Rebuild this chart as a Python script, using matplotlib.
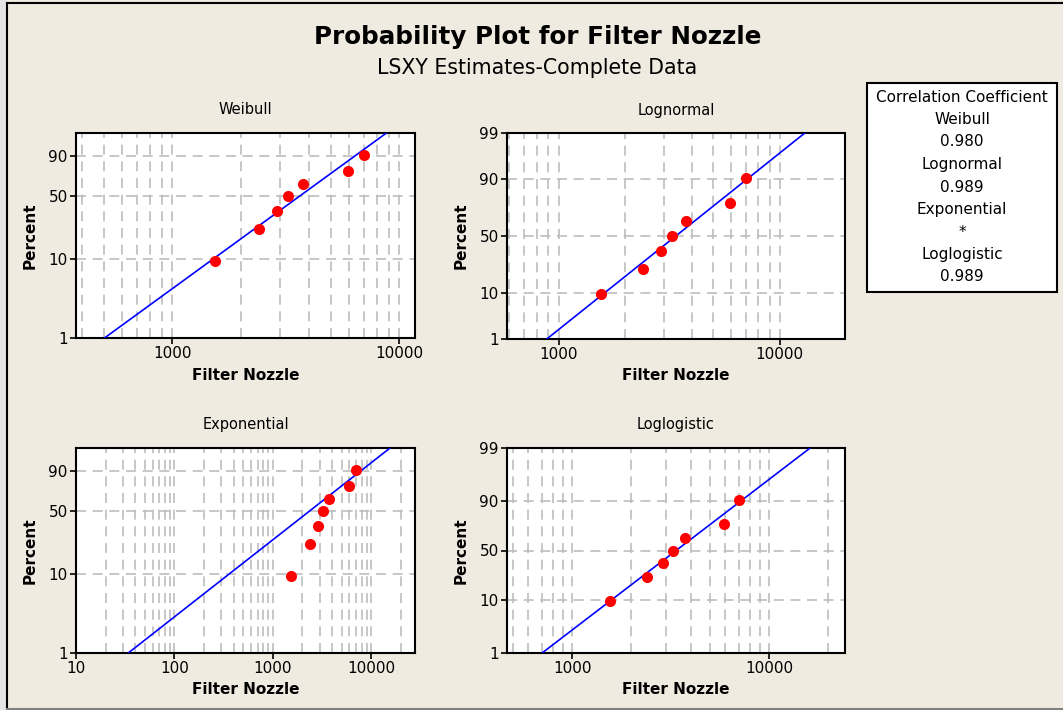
import math
import numpy as np
import matplotlib
matplotlib.use("Agg")
import matplotlib.pyplot as plt
from matplotlib.patches import Rectangle
from matplotlib.ticker import FixedLocator, NullLocator, LogLocator, FuncFormatter

# dados
filter_nozzle = [1550, 2400, 2900, 3250, 3760, 5930, 7000]
percent = [9.46, 22.97, 36.49, 50.0, 63.51, 77.03, 90.54]

# extremos das retas ajustadas (x em 1% e em 99%)
fit_percent = [1, 99]
weibull_fit = [502, 8800]
lognormal_fit = [885, 12970]
exponential_fit = [34, 15550]
loglogistic_fit = [704, 16160]

coef_names = ["Weibull", "Lognormal", "Exponential", "Loglogistic"]
coef_values = ["0.980", "0.989", "*", "0.989"]

W, H = 1063, 710
BG = "#EFEBE1"

# escalas de probabilidade
def weib_f(p):
    p = np.clip(np.asarray(p, dtype=float), 1e-6, 100 - 1e-6) / 100
    return np.log(-np.log(1 - p))

def weib_i(y):
    return 100 * (1 - np.exp(-np.exp(np.asarray(y, dtype=float))))

_z = np.linspace(-7, 7, 4001)
_P = np.array([50 * (1 + math.erf(v / math.sqrt(2))) for v in _z])

def norm_f(p):
    return np.interp(np.asarray(p, dtype=float), _P, _z)

def norm_i(y):
    return np.interp(np.asarray(y, dtype=float), _z, _P)

def logit_f(p):
    p = np.clip(np.asarray(p, dtype=float), 1e-6, 100 - 1e-6) / 100
    return np.log(p / (1 - p))

def logit_i(y):
    return 100 / (1 + np.exp(-np.asarray(y, dtype=float)))

fig = plt.figure(figsize=(W / 100, H / 100), dpi=100, facecolor=BG)
plt.rcParams["font.family"] = "DejaVu Sans"

# faixa clara a esquerda e borda
fig.patches.append(Rectangle((0, 0), 7 / W, 1, transform=fig.transFigure,
                             facecolor="#E4E4E4", edgecolor="none", zorder=0))
fig.add_artist(plt.Line2D([7 / W, 7 / W], [0, 1 - 3 / H], color="black", lw=1.5))
fig.add_artist(plt.Line2D([7 / W, 1], [1 - 3 / H, 1 - 3 / H], color="black", lw=1.5))
fig.add_artist(plt.Line2D([7 / W, 1], [1 / H, 1 / H], color="#808080", lw=1.5))

fig.text(538 / W, 1 - 37 / H, "Probability Plot for Filter Nozzle",
         ha="center", va="center", fontsize=17.7, fontweight="bold")
fig.text(537 / W, 1 - 68 / H, "LSXY Estimates-Complete Data",
         ha="center", va="center", fontsize=14.8)


def painel(box, nome, fit_x, fwd, inv, yticks, xlim, xticks):
    x0, y0, x1, y1 = box
    ax = fig.add_axes([x0 / W, 1 - y1 / H, (x1 - x0) / W, (y1 - y0) / H])
    ax.set_facecolor("white")
    ax.set_xscale("log")
    ax.set_yscale("function", functions=(fwd, inv))
    ax.set_xlim(*xlim)
    ax.set_ylim(1, 99)

    ax.xaxis.set_major_locator(FixedLocator(xticks))
    ax.xaxis.set_minor_locator(LogLocator(base=10, subs=np.arange(2, 10)))
    ax.xaxis.set_major_formatter(FuncFormatter(lambda v, pos: "%d" % round(v)))
    ax.xaxis.set_minor_formatter(FuncFormatter(lambda v, pos: ""))
    ax.yaxis.set_major_locator(FixedLocator(yticks))
    ax.yaxis.set_minor_locator(NullLocator())
    ax.yaxis.set_major_formatter(FuncFormatter(lambda v, pos: "%d" % round(v)))

    ax.grid(True, which="both", axis="x", color="#BDBDBD", linestyle=(0, (6, 4)), lw=1.2)
    ax.grid(True, which="major", axis="y", color="#BDBDBD", linestyle=(0, (6, 4)), lw=1.2)
    ax.set_axisbelow(True)

    ax.tick_params(which="major", length=4, width=1.2, direction="out",
                   labelsize=11, pad=2, colors="black")
    ax.tick_params(which="minor", length=0)
    for s in ax.spines.values():
        s.set_linewidth(1.5)
        s.set_color("black")

    ax.plot(fit_x, fit_percent, color="#0000FF", lw=1.2, zorder=3)
    ax.plot(filter_nozzle, percent, "o", color="#FF0000", markersize=8,
            markeredgewidth=0, zorder=4)

    cx = (x0 + x1) / 2
    fig.text(cx / W, 1 - (y0 - 23) / H, nome, ha="center", va="center", fontsize=10.5)
    fig.text(cx / W, 1 - (y1 + 37) / H, "Filter Nozzle", ha="center", va="center",
             fontsize=11, fontweight="bold")
    fig.text((x0 - 46) / W, 1 - ((y0 + y1) / 2) / H, "Percent", ha="center", va="center",
             rotation=90, fontsize=11, fontweight="bold")
    return ax


painel((76, 133, 415, 338), "Weibull", weibull_fit, weib_f, weib_i,
       [1, 10, 50, 90], (376, 11760), [1000, 10000])
painel((507, 133, 845, 339), "Lognormal", lognormal_fit, norm_f, norm_i,
       [1, 10, 50, 90, 99], (585, 19700), [1000, 10000])
painel((76, 448, 415, 653), "Exponential", exponential_fit, weib_f, weib_i,
       [1, 10, 50, 90], (10, 27900), [10, 100, 1000, 10000])
painel((507, 448, 845, 653), "Loglogistic", loglogistic_fit, logit_f, logit_i,
       [1, 10, 50, 90, 99], (467, 24300), [1000, 10000])

# caixa dos coeficientes de correlacao
fig.patches.append(Rectangle((867 / W, 1 - 292 / H), (1057 - 867) / W, (292 - 83) / H,
                             transform=fig.transFigure, facecolor="white",
                             edgecolor="black", lw=1.5))
linhas = ["Correlation Coefficient"]
for n, v in zip(coef_names, coef_values):
    linhas += [n, v]
for i, t in enumerate(linhas):
    fig.text(962 / W, 1 - (97 + i * 22.5) / H, t, ha="center", va="center", fontsize=11)

plt.savefig("out.png", dpi=100, facecolor=BG)
plt.close()
